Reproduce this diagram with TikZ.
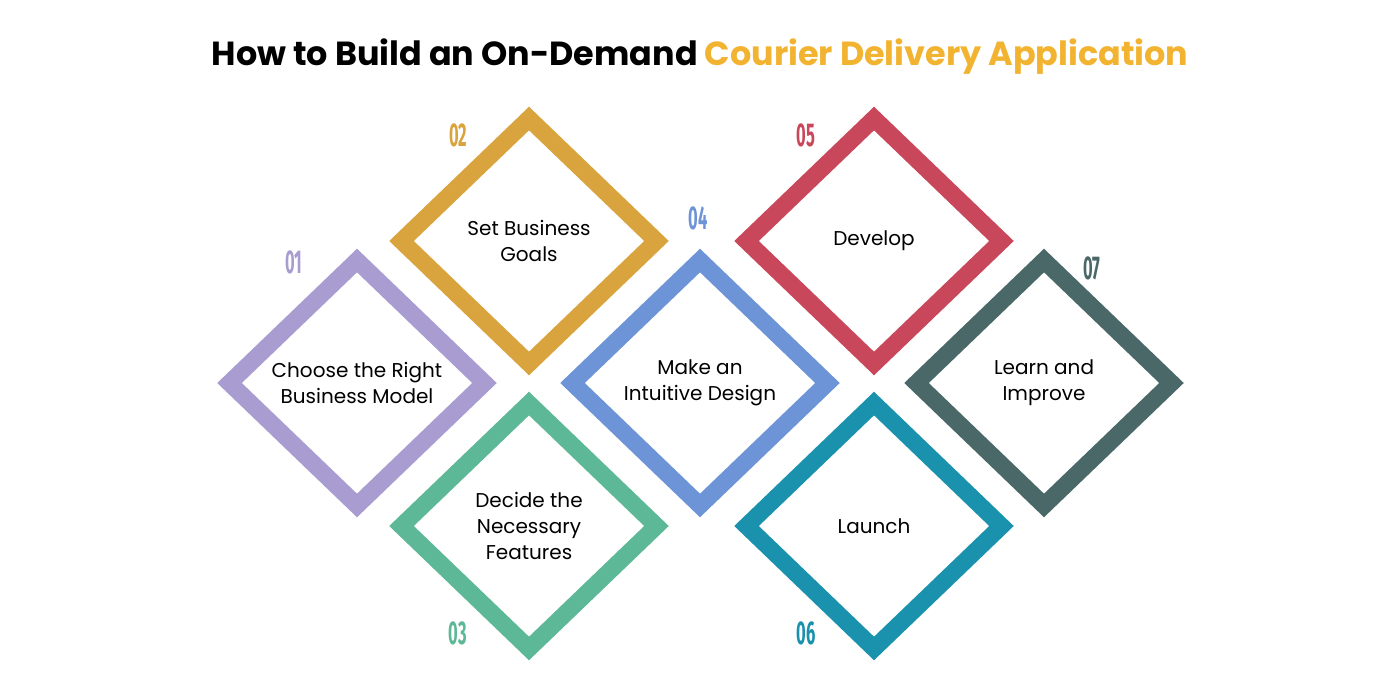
\documentclass[tikz,border=0pt]{standalone}
\usepackage{fontspec}
\setmainfont{Poppins}
\newfontfamily\numfont{Fira Sans}
\usetikzlibrary{shapes.geometric}
\definecolor{stepA}{HTML}{A89CD0}
\definecolor{stepB}{HTML}{D9A43E}
\definecolor{stepC}{HTML}{5CB896}
\definecolor{stepD}{HTML}{6E94D8}
\definecolor{stepE}{HTML}{C9475A}
\definecolor{stepF}{HTML}{1A92AE}
\definecolor{stepG}{HTML}{4B6869}
\definecolor{titleclr}{HTML}{F2B330}
\tikzset{
  stepbox/.style={diamond,draw=#1,line width=8.5pt,miter limit=4,
                  fill=white,minimum width=131pt,minimum height=126pt,inner sep=0pt,
                  align=center,font=\fontsize{10}{13}\selectfont},
  stepnum/.style={text=#1,font=\numfont\fontsize{16.5}{16.5}\selectfont\bfseries},
}
\newcommand{\narrow}[1]{\scalebox{0.5}[1]{#1}}
\begin{document}
\begin{tikzpicture}[x=0.5pt, y=-0.5pt]
\useasboundingbox[fill=white] (0,0) rectangle (1400,700);

% Title
\node[font=\fontsize{16.7}{20}\selectfont\bfseries] (title) at (700,57)
  {How to Build an On-Demand \textcolor{titleclr}{Courier Delivery Application}};

% Steps as diamonds
\node[stepbox=stepA] (s1) at (357,383) {Choose the Right\\Business Model};
\node[stepbox=stepB] (s2) at (529,241) {Set Business\\Goals};
\node[stepbox=stepC] (s3) at (529,526) {Decide the\\Necessary\\Features};
\node[stepbox=stepD] (s4) at (700,383) {Make an\\Intuitive Design};
\node[stepbox=stepE] (s5) at (874,241) {Develop};
\node[stepbox=stepF] (s6) at (874,526) {Launch};
\node[stepbox=stepG] (s7) at (1044,383) {Learn and\\Improve};

% Step numbers
\node[stepnum=stepA] (n1) at (294,262) {\narrow{01}};
\node[stepnum=stepB] (n2) at (458,135) {\narrow{02}};
\node[stepnum=stepC] (n3) at (458,633) {\narrow{03}};
\node[stepnum=stepD] (n4) at (698,218) {\narrow{04}};
\node[stepnum=stepE] (n5) at (806,135) {\narrow{05}};
\node[stepnum=stepF] (n6) at (806,633) {\narrow{06}};
\node[stepnum=stepG] (n7) at (1092,268) {\narrow{07}};
\end{tikzpicture}
\end{document}
